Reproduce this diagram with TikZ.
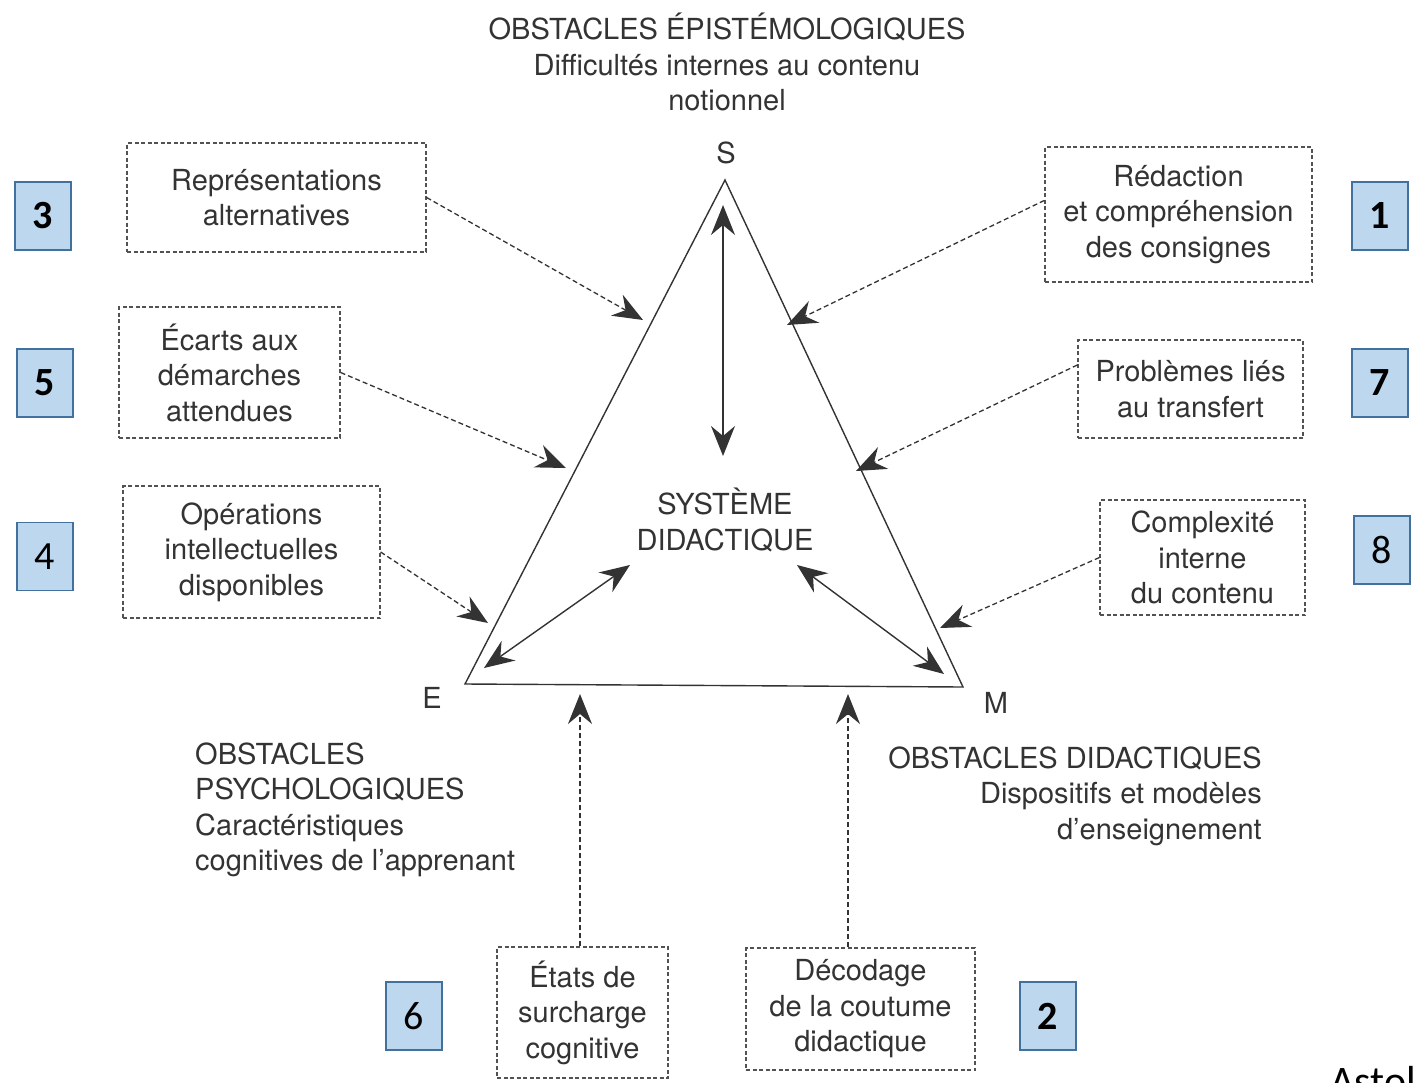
\documentclass[tikz,border=0pt]{standalone}
\usepackage{fontspec}
\setmainfont{TeX Gyre Heros}
\newfontfamily\numfont{Carlito}
\usetikzlibrary{arrows.meta}

\definecolor{ink}{HTML}{333333}
\definecolor{numfill}{HTML}{BDD7EE}
\definecolor{numline}{HTML}{41719C}

\begin{document}
\begin{tikzpicture}[
    x=1pt, y=-1pt,
    font=\fontsize{29}{35.5}\selectfont,
    text=ink,
    obstacle/.style={rectangle, draw=ink!85, dash pattern=on 4pt off 2.5pt, line width=1.2pt, align=center, inner sep=0pt},
    numbox/.style={rectangle, draw=numline, fill=numfill, line width=1.2pt, minimum width=56pt, minimum height=68pt, inner sep=0pt, text=black},
    caption/.style={align=center, inner sep=0pt},
    feed/.style={-{Stealth[length=30pt, width=24pt, inset=10pt]}, draw=ink, line width=1.3pt, dash pattern=on 5pt off 3pt},
    link/.style={{Stealth[length=30pt, width=24pt, inset=10pt]}-{Stealth[length=30pt, width=24pt, inset=10pt]}, draw=ink, line width=1.4pt}
]
\useasboundingbox (0,0) rectangle (1414,1082);
\clip (0,0) rectangle (1414,1082);

% Triangle
\coordinate (S) at (725,180);
\coordinate (E) at (465,684);
\coordinate (M) at (963,687);
\draw[ink, line width=1.4pt] (S) -- (E) -- (M) -- cycle;

\node[caption] (ls) at (726,153) {S};
\node[caption] (le) at (432,698) {E};
\node[caption] (lm) at (996,703) {M};

% Titles
\node[caption] (epi) at (727,62) {OBSTACLES ÉPISTÉMOLOGIQUES\\Difficultés internes au contenu\\notionnel};
\node[caption] (sys) at (725,520) {SYSTÈME\\DIDACTIQUE};
\node[caption, align=left, anchor=west] (psy) at (195,810) {OBSTACLES\\PSYCHOLOGIQUES\\Caractéristiques\\cognitives de l’apprenant};
\node[caption, align=right, anchor=east] (did) at (1262,796) {OBSTACLES DIDACTIQUES\\Dispositifs et modèles\\d’enseignement};

% Inner double arrows
\coordinate (v1) at (723,205);
\coordinate (v2) at (723,456);
\coordinate (l1) at (630,565);
\coordinate (l2) at (484,668);
\coordinate (r1) at (797,565);
\coordinate (r2) at (944,674);
\draw[link] (v1) -- (v2);
\draw[link] (l1) -- (l2);
\draw[link] (r1) -- (r2);

% Obstacle boxes
\node[obstacle, minimum width=299pt, minimum height=109pt] (rep) at (276.5,197.5) {Représentations\\alternatives};
\node[obstacle, minimum width=267pt, minimum height=135pt] (red) at (1178.5,214.5) {Rédaction\\et compréhension\\des consignes};
\node[obstacle, minimum width=221pt, minimum height=131pt] (eca) at (229.5,372.5) {Écarts aux\\démarches\\attendues};
\node[obstacle, minimum width=225pt, minimum height=98pt] (pro) at (1190.5,389) {Problèmes liés\\au transfert};
\node[obstacle, minimum width=257pt, minimum height=132pt] (ope) at (251.5,552) {Opérations\\intellectuelles\\disponibles};
\node[obstacle, minimum width=205pt, minimum height=115pt] (cpx) at (1202.5,557.5) {Complexité\\interne\\du contenu};
\node[obstacle, minimum width=171pt, minimum height=131pt] (eta) at (582.5,1012.5) {États de\\surcharge\\cognitive};
\node[obstacle, minimum width=229pt, minimum height=122pt] (dec) at (860.5,1009) {Décodage\\de la coutume\\didactique};

% Arrow ends on the triangle
\coordinate (t3) at (643,320);
\coordinate (t1) at (787,325);
\coordinate (t5) at (566,468);
\coordinate (t7) at (856,471);
\coordinate (t4) at (488,623);
\coordinate (t8) at (940,628);
\coordinate (t6) at (580,694);
\coordinate (t2) at (848,694);

\draw[feed] (rep.east) -- (t3);
\draw[feed] (red.174) -- (t1);
\draw[feed] (eca.east) -- (t5);
\draw[feed] (pro.168) -- (t7);
\draw[feed] (ope.east) -- (t4);
\draw[feed] (cpx.west) -- (t8);
\draw[feed] (eta.north -| t6) -- (t6);
\draw[feed] (dec.north -| t2) -- (t2);

% Number tags
\begin{scope}[font=\numfont\bfseries\fontsize{40}{40}\selectfont]
\node[numbox] (n3) at (43,216) {3};
\node[numbox] (n5) at (45,383) {5};
\node[numbox] (n1) at (1380,216) {1};
\node[numbox] (n7) at (1380,383) {7};
\node[numbox] (n2) at (1048,1016) {2};
\end{scope}
\begin{scope}[font=\numfont\fontsize{40}{40}\selectfont]
\node[numbox] (n4) at (45,556.5) {4};
\node[numbox] (n8) at (1382,550) {8};
\node[numbox] (n6) at (414,1016) {6};
\end{scope}

% Source
\node[anchor=base west, inner sep=0pt, text=black, font=\numfont\fontsize{42}{42}\selectfont] (src) at (1330,1095) {Astol};
\end{tikzpicture}
\end{document}
